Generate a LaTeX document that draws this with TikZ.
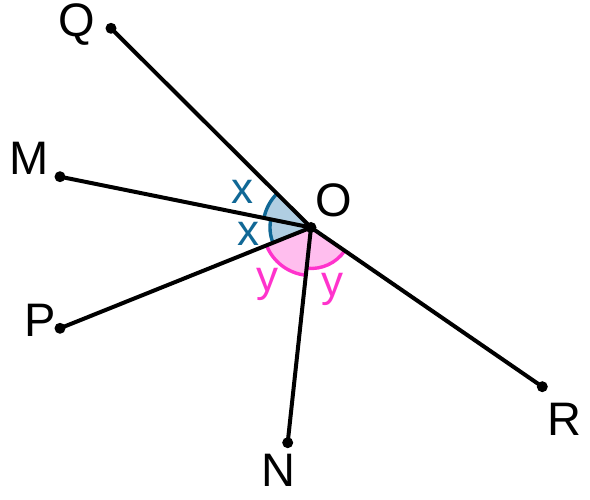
\documentclass[tikz,border=0pt]{standalone}
\usepackage{fontspec}
\setmainfont{Liberation Sans}
\definecolor{bluestroke}{RGB}{16,104,150}
\definecolor{bluefill}{RGB}{176,206,226}
\definecolor{pinkstroke}{RGB}{255,51,204}
\definecolor{pinkfill}{RGB}{255,190,238}
\begin{document}
\begin{tikzpicture}[x=1pt,y=1pt,
  ray/.style={line width=4pt,black},
  dot/.style={circle,fill=black,inner sep=0pt,minimum size=11pt},
  ptlabel/.style={inner sep=0pt,font=\fontsize{47}{47}\selectfont},
  xlabel/.style={inner sep=0pt,text=bluestroke,font=\fontsize{44}{44}\selectfont},
  ylabel/.style={inner sep=0pt,text=pinkstroke,font=\fontsize{44}{44}\selectfont},
  barc/.style={line width=3.4pt,bluestroke},
  parc/.style={line width=3.4pt,pinkstroke}]
\useasboundingbox (0,0) rectangle (590,-500);
\coordinate (O) at (311,-227.5);
% angle sectors
\fill[bluefill] (O) -- ++(135.1:48) arc[start angle=135.1,end angle=168.56,radius=48] -- cycle;
\fill[bluefill] (O) -- ++(168.56:41) arc[start angle=168.56,end angle=201.88,radius=41] -- cycle;
\fill[pinkfill] (O) -- ++(201.88:48) arc[start angle=201.88,end angle=263.82,radius=48] -- cycle;
\fill[pinkfill] (O) -- ++(263.82:41) arc[start angle=263.82,end angle=325.46,radius=41] -- cycle;
\draw[barc] (O) ++(135.1:48) arc[start angle=135.1,end angle=168.56,radius=48];
\draw[barc] (O) ++(168.56:41) arc[start angle=168.56,end angle=201.88,radius=41];
\draw[parc] (O) ++(201.88:48) arc[start angle=201.88,end angle=263.82,radius=48];
\draw[parc] (O) ++(263.82:41) arc[start angle=263.82,end angle=325.46,radius=41];
% points
\node[dot] (Od) at (O) {};
\node[dot] (Q) at (111,-28.3) {};
\node[dot] (M) at (60,-176.7) {};
\node[dot] (P) at (60,-328.3) {};
\node[dot] (N) at (287.7,-442.7) {};
\node[dot] (R) at (542.3,-386.7) {};
% rays
\draw[ray] (Od.center) -- (Q.center);
\draw[ray] (Od.center) -- (M.center);
\draw[ray] (Od.center) -- (P.center);
\draw[ray] (Od.center) -- (N.center);
\draw[ray] (Od.center) -- (R.center);
% labels
\node[ptlabel] (lQ) at (76.7,-25) {Q};
\node[ptlabel] (lM) at (29,-158.3) {M};
\node[ptlabel] (lP) at (40,-320.8) {P};
\node[ptlabel] (lN) at (278.8,-470.3) {N};
\node[ptlabel] (lR) at (564,-419.3) {R};
\node[ptlabel] (lO) at (334.2,-200) {O};
\node[xlabel] (x1) at (242,-192) {x};
\node[xlabel] (x2) at (248,-234) {x};
\node[ylabel] (y1) at (267.5,-284) {y};
\node[ylabel] (y2) at (332.5,-289) {y};
\end{tikzpicture}
\end{document}
